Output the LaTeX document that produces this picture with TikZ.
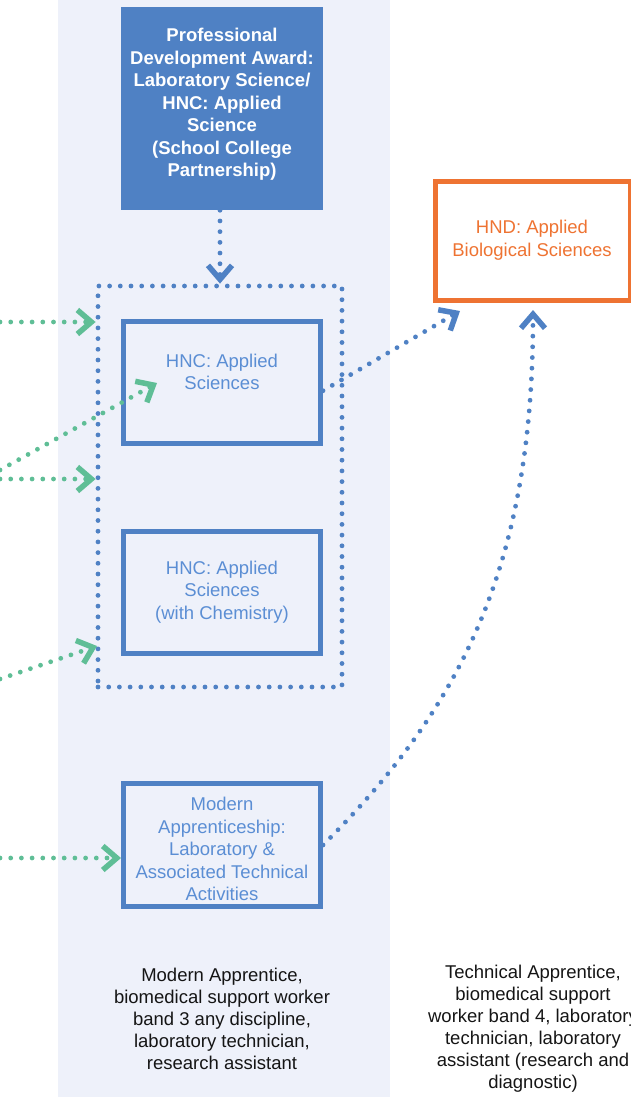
\documentclass[tikz,border=0pt]{standalone}
\usepackage{fontspec}
\setmainfont{Liberation Sans}
\usetikzlibrary{arrows.meta}
\definecolor{panelbg}{HTML}{EEF1FA}
\definecolor{mblue}{HTML}{4F81C4}
\definecolor{tblue}{HTML}{5B8ED4}
\definecolor{mgreen}{HTML}{5FBE96}
\definecolor{morange}{HTML}{EE7332}
\definecolor{captxt}{HTML}{151515}
\tikzset{
  boxshape/.style={draw=mblue, line width=5pt, minimum width=197pt, minimum height=122.5pt, inner sep=0pt},
  btext/.style={text=tblue, align=center, inner sep=0pt, font=\fontsize{18.5}{22.5}\selectfont},
  captext/.style={text=captxt, align=center, inner sep=0pt, font=\fontsize{18.5}{22}\selectfont},
  dotline/.style={line width=4.8pt, line cap=round, dash pattern=on 0pt off 10.7pt},
  tipbarb/.style={-{Straight Barb[length=14pt,width=24pt,line width=5.5pt,sharp]}},
  bluearrow/.style={dotline, draw=mblue, tipbarb},
  greenarrow/.style={dotline, draw=mgreen, tipbarb},
}
\begin{document}
\begin{tikzpicture}[x=1pt,y=-1pt]
\useasboundingbox (0,0) rectangle (631,1097);
\fill[panelbg] (58,0) rectangle (390,1097);

% top filled box
\node[fill=mblue, minimum width=202.6pt, minimum height=202.7pt, inner sep=0pt] (pda) at (222,108.7) {};
\node[text=white, align=center, inner sep=0pt, font=\fontsize{18.5}{22.5}\selectfont\bfseries] (pdat) at (222,104.5)
  {Professional\\Development Award:\\Laboratory Science/\\HNC: Applied\\Science\\(School College\\Partnership)};

% dotted group
\node[draw=mblue, dotline, minimum width=244pt, minimum height=401pt, inner sep=0pt] (grp) at (220,486.5) {};

% HNC boxes
\node[boxshape] (hnc1) at (222,382.7) {};
\node[btext] (hnc1t) at (222,372) {HNC: Applied\\Sciences};
\node[boxshape] (hnc2) at (222,592.7) {};
\node[btext] (hnc2t) at (222,592) {HNC: Applied\\Sciences\\(with Chemistry)};

% Modern apprenticeship
\node[boxshape] (ma) at (222,845) {};
\node[btext] (mat) at (222,849) {Modern\\Apprenticeship:\\Laboratory \&\\Associated Technical\\Activities};

% HND box
\node[draw=morange, line width=5pt, minimum width=195pt, minimum height=119pt, inner sep=0pt] (hnd) at (532.5,241) {};
\node[btext, text=morange] (hndt) at (532,240) {HND: Applied\\Biological Sciences};

% captions
\node[captext] (cap1) at (222,1019) {Modern Apprentice,\\biomedical support worker\\band 3 any discipline,\\laboratory technician,\\research assistant};
\node[captext] (cap2) at (533,1029) {Technical Apprentice,\\biomedical support\\worker band 4, laboratory\\technician, laboratory\\assistant (research and\\diagnostic)};

% blue arrows
\draw[bluearrow] (pda.south -| grp.north) -- (grp.north);
\coordinate (b1e) at (460,311);
\draw[bluearrow] ([yshift=-8pt]hnc1.east) -- (b1e);
\coordinate (b2e) at (533,310);
\draw[bluearrow] (ma.east) .. controls (464,705) and (533,561) .. (b2e);

% green arrows
\coordinate (g1) at (0,322);
\draw[greenarrow] (g1) -- (g1 -| grp.west);
\coordinate (g2) at (0,470);
\coordinate (g2e) at (157,383);
\draw[greenarrow] (g2) -- (g2e);
\coordinate (g3) at (0,479);
\draw[greenarrow] (g3) -- (g3 -| grp.west);
\coordinate (g4) at (0,679);
\coordinate (g4e) at (97,646);
\draw[greenarrow] (g4) -- (g4e);
\coordinate (g5) at (0,858);
\draw[greenarrow] (g5) -- (g5 -| ma.west);
\end{tikzpicture}
\end{document}
